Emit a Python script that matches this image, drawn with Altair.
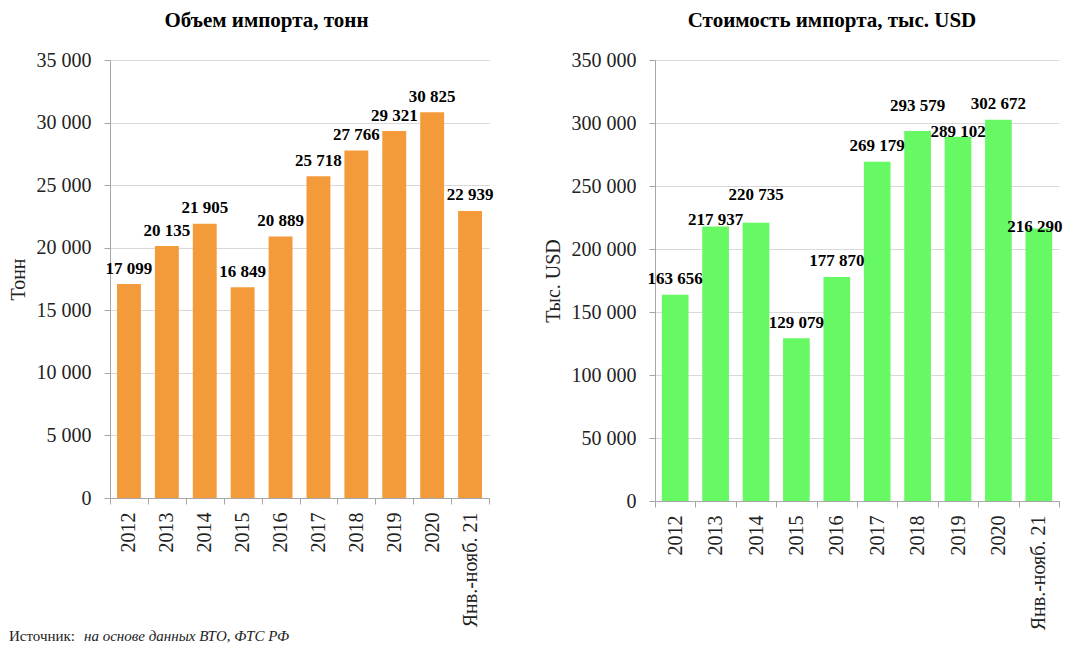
import altair as alt
import pandas as pd

categories = ["2012", "2013", "2014", "2015", "2016", "2017", "2018", "2019", "2020", "Янв.-нояб. 21"]
volume_tonnes = [17099, 20135, 21905, 16849, 20889, 25718, 27766, 29321, 30825, 22939]
value_kusd = [163656, 217937, 220735, 129079, 177870, 269179, 293579, 289102, 302672, 216290]

title_left = "Объем импорта, тонн"
title_right = "Стоимость импорта, тыс. USD"
ytitle_left = "Тонн"
ytitle_right = "Тыс. USD"
note_label = "Источник:"
note_text = "на основе данных ВТО, ФТС РФ"

FONT = "Liberation Serif"
AXIS_GRAY = "#A6A6A6"
GRID_GRAY = "#D9D9D9"
TEXT = "#222222"


def panel(values, color, title, ytitle, ymax, step, width, height, bar_frac,
          title_dx, label_groups, with_note=False):
    df = pd.DataFrame({"cat": categories, "v": values})
    base = alt.Chart(df)
    x_enc = alt.X(
        "cat:N", sort=categories, title=None,
        scale=alt.Scale(paddingInner=0, paddingOuter=0),
        axis=alt.Axis(labelAngle=270, labelFont=FONT, labelFontSize=20,
                      labelColor=TEXT, labelPadding=8, tickSize=6,
                      tickBand="extent", tickColor=AXIS_GRAY,
                      domainColor=AXIS_GRAY, grid=False),
    )
    y_enc = alt.Y(
        "v:Q", title=ytitle,
        scale=alt.Scale(domain=[0, ymax], nice=False),
        axis=alt.Axis(values=list(range(0, ymax + 1, step)), format=",d",
                      labelFont=FONT, labelFontSize=20, labelColor=TEXT,
                      labelPadding=13, tickSize=6, tickColor=AXIS_GRAY,
                      domainColor=AXIS_GRAY, gridColor=GRID_GRAY,
                      titleFont=FONT, titleFontSize=20, titleFontWeight="normal",
                      titleColor=TEXT, titlePadding=8),
    )
    bars = base.mark_bar(color=color, width=alt.RelativeBandSize(bar_frac)).encode(x=x_enc, y=y_enc)
    layers = [bars]
    assigned = set()
    for cats, dx, dy in label_groups:
        assigned.update(cats)
    rest = [c for c in categories if c not in assigned]
    groups = [(rest, 0, 0)] + label_groups
    for cats, dx, dy in groups:
        if not cats:
            continue
        layers.append(
            base.transform_filter(alt.FieldOneOfPredicate(field="cat", oneOf=cats))
            .mark_text(font=FONT, fontSize=17, fontWeight="bold", color="black",
                       baseline="alphabetic", dx=dx, dy=-10.5 + dy)
            .encode(x=alt.X("cat:N", sort=categories), y=alt.Y("v:Q"),
                    text=alt.Text("v:Q", format=",d"))
        )
    if with_note:
        ndf = pd.DataFrame({"a": [note_label], "b": [note_text]})
        nb = alt.Chart(ndf)
        layers.append(nb.mark_text(font=FONT, fontSize=15, color=TEXT, align="left",
                                   baseline="alphabetic")
                      .encode(x=alt.value(-101), y=alt.value(581), text="a:N"))
        layers.append(nb.mark_text(font=FONT, fontSize=15, fontStyle="italic", color=TEXT,
                                   align="left", baseline="alphabetic")
                      .encode(x=alt.value(-26), y=alt.value(581), text="b:N"))
    return alt.layer(*layers).properties(
        width=width, height=height,
        title=alt.TitleParams(title, font=FONT, fontSize=21, fontWeight="bold",
                              color="black", anchor="middle", dx=title_dx,
                              baseline="alphabetic", offset=2),
    )


left = panel(volume_tonnes, "#F39A3A", title_left, ytitle_left, 35000, 5000,
             379, 438, 0.63, -33, [], with_note=True)
right = panel(value_kusd, "#66F963", title_right, ytitle_right, 350000, 50000,
              404, 441, 0.66, -25,
              [(["2013"], 0, 9.5), (["2014"], 0, -12.5), (["2018"], 0, -9.5),
               (["2019"], 0, 10.5), (["Янв.-нояб. 21"], -4, 14)])

chart = (
    alt.hconcat(left, right, spacing=49)
    .properties(padding={"left": 0, "top": 2, "right": 0, "bottom": 0})
    .configure(locale={"number": {"decimal": ",", "thousands": "\u00a0",
                                  "grouping": [3], "currency": ["", ""]}})
    .configure_view(stroke=None)
)

chart.save("out.html", embed_options={"renderer": "svg", "actions": False})
